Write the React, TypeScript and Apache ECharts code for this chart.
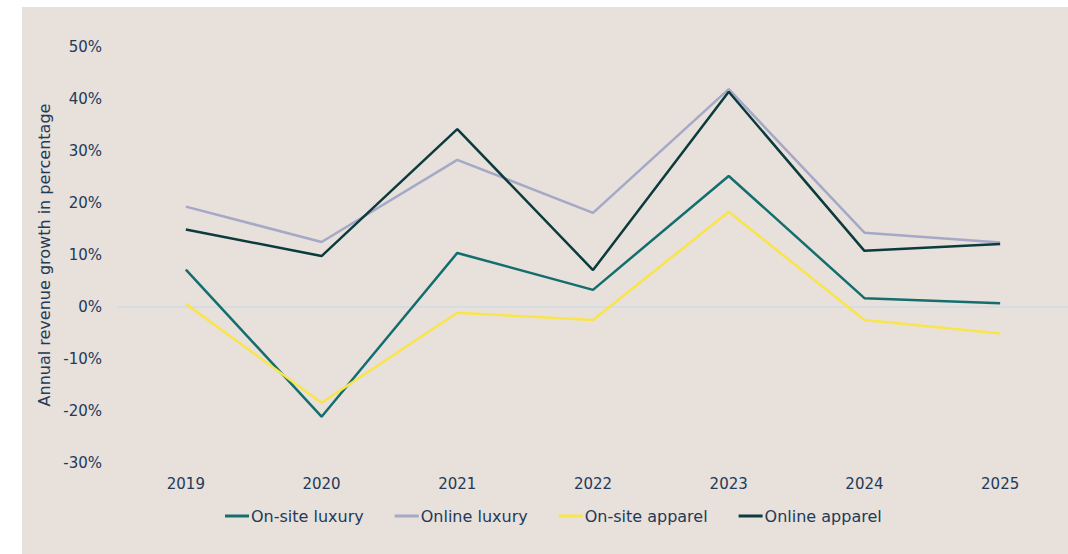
import React, { useEffect, useRef } from "react";
import * as echarts from "echarts";

const years = ["2019", "2020", "2021", "2022", "2023", "2024", "2025"];
const onsiteLuxury = [7.2, -21.1, 10.4, 3.3, 25.2, 1.7, 0.7];
const onlineLuxury = [19.3, 12.5, 28.3, 18.1, 41.9, 14.3, 12.4];
const onsiteApparel = [0.6, -18.4, -1.1, -2.5, 18.3, -2.5, -5.1];
const onlineApparel = [14.9, 9.8, 34.2, 7.1, 41.4, 10.8, 12.1];

const seriesNames = ["On-site luxury", "Online luxury", "On-site apparel", "Online apparel"];
const seriesColors = ["#156e6e", "#a5a8c6", "#f9e54b", "#0b3b3d"];
const seriesData = [onsiteLuxury, onlineLuxury, onsiteApparel, onlineApparel];

const FONT = "'DejaVu Sans', 'Noto Sans', sans-serif";
const TEXT = "#233a58";

export default function App() {
  const ref = useRef<HTMLDivElement>(null);
  useEffect(() => {
    if (!ref.current) return;
    const chart = echarts.init(ref.current, undefined, { renderer: "svg" });
    chart.setOption({
      animation: false,
      backgroundColor: "#e7e0db",
      textStyle: { fontFamily: FONT },
      grid: { left: 96, right: 0, top: 40, bottom: 91 },
      legend: {
        data: seriesNames,
        top: 501,
        left: 203,
        padding: 0,
        icon: "rect",
        itemWidth: 24,
        itemHeight: 3,
        itemGap: 31,
        textStyle: { color: TEXT, fontSize: 16, fontFamily: FONT, padding: [0, 0, 0, -3] },
      },
      xAxis: {
        type: "category",
        data: years,
        boundaryGap: true,
        axisLine: { show: false, onZero: false },
        axisTick: { show: false },
        axisLabel: { color: TEXT, fontSize: 15, margin: 13, fontFamily: FONT },
      },
      yAxis: {
        type: "value",
        min: -30,
        max: 50,
        interval: 10,
        name: "Annual revenue growth in percentage",
        nameLocation: "middle",
        nameGap: 64,
        nameTextStyle: { color: TEXT, fontSize: 16, fontFamily: FONT },
        axisLine: { show: false },
        axisTick: { show: false },
        splitLine: { show: false },
        axisLabel: {
          color: TEXT,
          fontSize: 15,
          margin: 16,
          fontFamily: FONT,
          formatter: (v: number) => `${v}%`,
        },
      },
      series: seriesNames.map((name, i) => ({
        name,
        type: "line",
        data: seriesData[i],
        symbol: "none",
        lineStyle: { color: seriesColors[i], width: 2.5 },
        itemStyle: { color: seriesColors[i] },
        z: 2 + i,
        markLine:
          i === 0
            ? {
                silent: true,
                symbol: "none",
                label: { show: false },
                lineStyle: { color: "#cfdde6", width: 1.5, type: "solid" },
                data: [{ yAxis: 0 }],
                z: 1,
              }
            : undefined,
      })),
    });
    return () => chart.dispose();
  }, []);
  return (
    <div style={{ position: "fixed", left: 0, top: 0, width: 1068, height: 554, background: "#ffffff" }}>
      <div ref={ref} style={{ position: "absolute", left: 22, top: 7, width: 1046, height: 547 }} />
    </div>
  );
}
